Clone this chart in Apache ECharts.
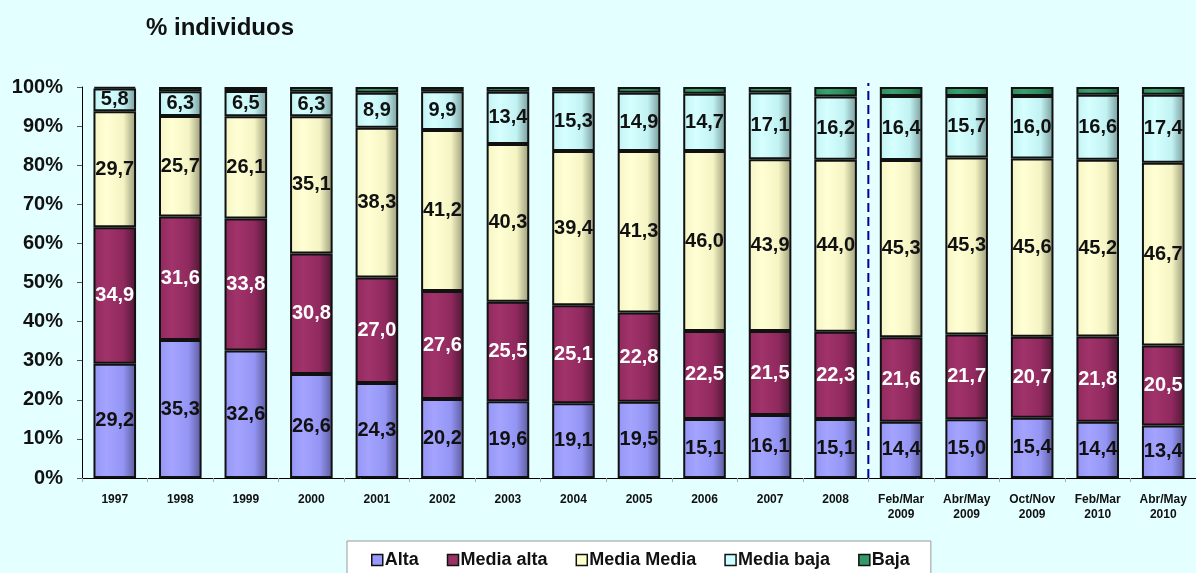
<!DOCTYPE html>
<html>
<head>
<meta charset="utf-8">
<script src="https://cdn.jsdelivr.net/npm/echarts@6/dist/echarts.min.js"></script>
<style>
html,body{margin:0;padding:0;background:#E3FFFF;}
#c{width:1196px;height:573px;}
</style>
</head>
<body>
<div id="c"></div>
<script>
var categories = ['1997','1998','1999','2000','2001','2002','2003','2004','2005','2006','2007','2008','Feb/Mar\n2009','Abr/May\n2009','Oct/Nov\n2009','Feb/Mar\n2010','Abr/May\n2010'];
var alta       = [29.2,35.3,32.6,26.6,24.3,20.2,19.6,19.1,19.5,15.1,16.1,15.1,14.4,15.0,15.4,14.4,13.4];
var mediaAlta  = [34.9,31.6,33.8,30.8,27.0,27.6,25.5,25.1,22.8,22.5,21.5,22.3,21.6,21.7,20.7,21.8,20.5];
var mediaMedia = [29.7,25.7,26.1,35.1,38.3,41.2,40.3,39.4,41.3,46.0,43.9,44.0,45.3,45.3,45.6,45.2,46.7];
var mediaBaja  = [5.8,6.3,6.5,6.3,8.9,9.9,13.4,15.3,14.9,14.7,17.1,16.2,16.4,15.7,16.0,16.6,17.4];
var baja       = [0.4,1.1,1.0,1.2,1.5,1.1,1.2,1.1,1.5,1.7,1.4,2.4,2.3,2.3,2.3,2.0,2.0];
var yTicks = [0,10,20,30,40,50,60,70,80,90,100];
// divider between 2008 and Feb/Mar 2009 (boundary after 12 categories)
var dividerLine = [[12,0],[12,101]];

function grad(light, base, dark){
  return new echarts.graphic.LinearGradient(0,0,1,0,[
    {offset:0, color:base},
    {offset:0.3, color:light},
    {offset:0.7, color:base},
    {offset:1, color:dark}
  ]);
}
var fills = {
  alta: grad('#A4A4FF','#9494F4','#5A5A9A'),
  mediaAlta: grad('#A0336A','#90295E','#4E1834'),
  mediaMedia: grad('#FFFFD4','#F4F4C4','#9A9A78'),
  mediaBaja: grad('#D6FFFF','#C2F2F2','#789A9A'),
  baja: grad('#3CA06E','#2E8A5C','#1A5A3A')
};
var solid = {alta:'#9999FF', mediaAlta:'#993366', mediaMedia:'#FFFFCC', mediaBaja:'#CCFFFF', baja:'#339966'};
var FONT = 'Liberation Sans, Arial, sans-serif';

function fmt(p){ return p.value.toFixed(1).replace('.', ','); }
function mk(name, data, key, labelColor, showLabel){
  return {
    name: name, type:'bar', stack:'t', data:data, barCategoryGap:'35%',
    itemStyle:{color:fills[key], borderColor:'#111', borderWidth:2},
    label:{show:showLabel, position:'inside', formatter:fmt, color:labelColor,
      fontFamily:FONT, fontWeight:'bold', fontSize:20},
    emphasis:{disabled:true}
  };
}
function legItem(name, key){
  return {name:name, icon:'rect', itemStyle:{color:solid[key], borderColor:'#111', borderWidth:1.5}};
}

var chart = echarts.init(document.getElementById('c'), null, {renderer:'canvas'});
chart.setOption({
  backgroundColor:'#E3FFFF',
  animation:false,
  title:{text:'% individuos', left:141, top:11,
    textStyle:{fontFamily:FONT, fontWeight:'bold', fontSize:24, color:'#111'}},
  grid:{left:82, right:-2, top:87, bottom:95, containLabel:false},
  legend:{
    left:347, top:541, width:600,
    backgroundColor:'#ffffff', borderColor:'#999', borderWidth:1,
    padding:[10,21,20,24], itemGap:28, itemWidth:11, itemHeight:11,
    textStyle:{fontFamily:FONT, fontWeight:'bold', fontSize:18, color:'#111', padding:[0,0,0,-3]},
    data:[
      legItem('Alta','alta'),
      legItem('Media alta','mediaAlta'),
      legItem('Media Media','mediaMedia'),
      legItem('Media baja','mediaBaja'),
      legItem('Baja','baja')
    ]
  },
  xAxis:[{
    type:'category', data:categories,
    axisLine:{lineStyle:{color:'#000', width:1}},
    axisTick:{show:true, alignWithLabel:false, length:4, lineStyle:{color:'#aaa'}},
    axisLabel:{interval:0, margin:14, lineHeight:15, color:'#111',
      fontFamily:FONT, fontWeight:'bold', fontSize:12}
  },{
    type:'value', min:0, max:17, show:false
  }],
  yAxis:{
    type:'value', min:0, max:100, interval:10,
    axisLine:{show:true, lineStyle:{color:'#000', width:1}},
    axisTick:{show:true, length:5, lineStyle:{color:'#555'}},
    splitLine:{show:false},
    axisLabel:{formatter:'{value}%', margin:19, color:'#111',
      fontFamily:FONT, fontWeight:'bold', fontSize:20}
  },
  series:[
    mk('Alta', alta, 'alta', '#111', true),
    mk('Media alta', mediaAlta, 'mediaAlta', '#fff', true),
    mk('Media Media', mediaMedia, 'mediaMedia', '#111', true),
    mk('Media baja', mediaBaja, 'mediaBaja', '#111', true),
    mk('Baja', baja, 'baja', '#111', false),
    {
      name:'divider', type:'line', xAxisIndex:1, data:dividerLine, symbol:'none',
      silent:true, clip:false, z:5,
      lineStyle:{color:'#000099', type:[9,5], width:2}
    }
  ]
});
</script>
</body>
</html>
